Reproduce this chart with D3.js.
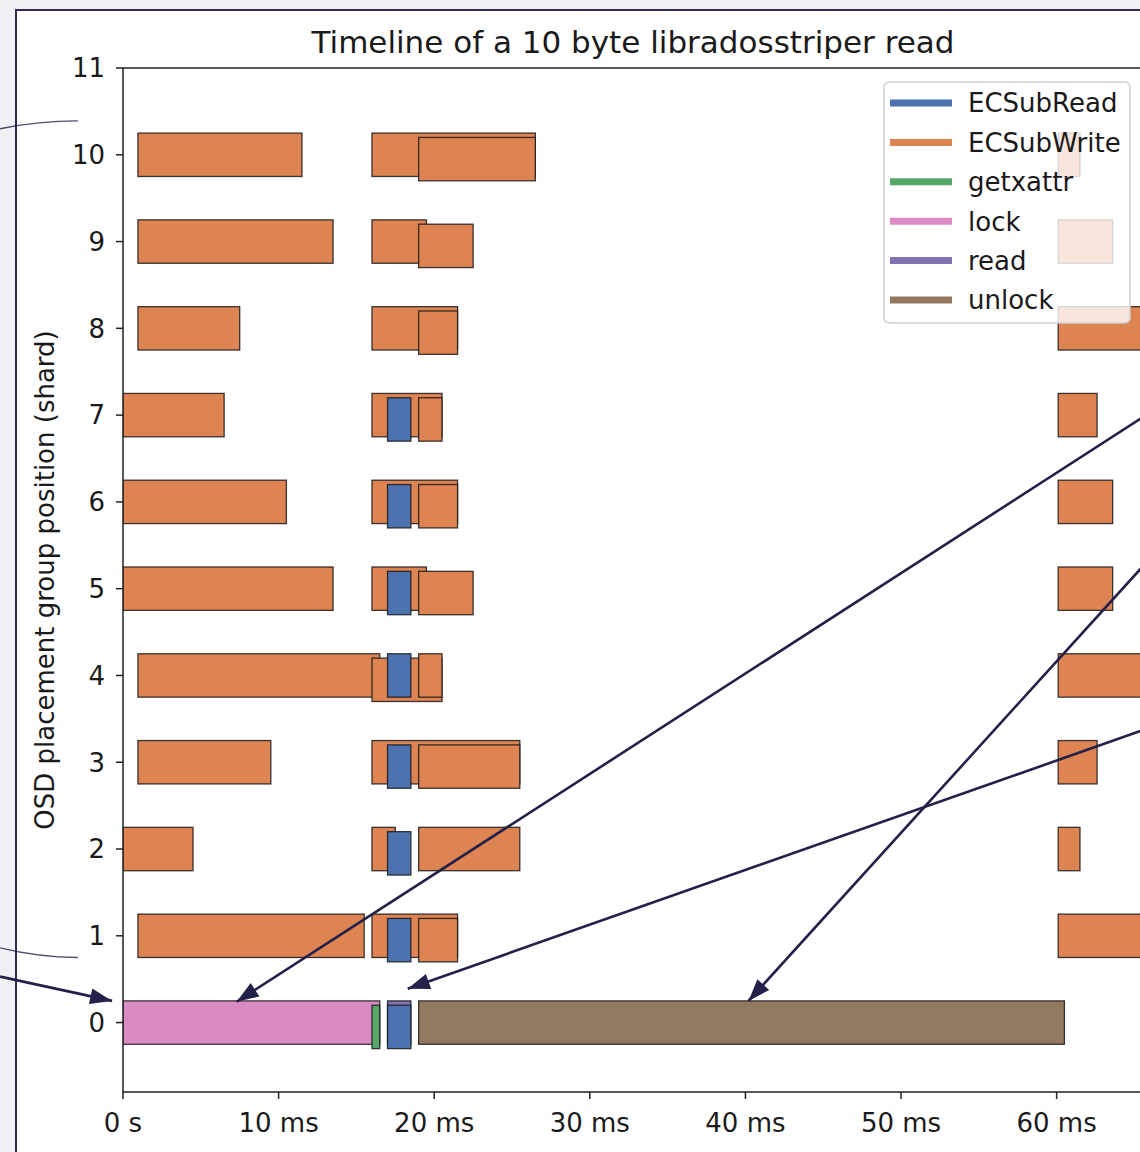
<!DOCTYPE html>
<html>
<head>
<meta charset="utf-8">
<script src="https://cdn.jsdelivr.net/npm/d3@7"></script>
<style>
  body { margin: 0; background: #eff1f4; }
  svg { display: block; font-family: 'DejaVu Sans', sans-serif; }
</style>
</head>
<body>
<svg></svg>
<script>
'use strict'

const width = 1140
const height = 1152

// operations, in legend order, and their colours
const ops = ['ECSubRead', 'ECSubWrite', 'getxattr', 'lock', 'read', 'unlock']
const opColors = ['#4c72b0', '#dd8452', '#55a868', '#da8bc3', '#8172b3', '#937860']

const xTicks = [0, 10, 20, 30, 40, 50, 60]
const xTickLabels = ['0 s', '10 ms', '20 ms', '30 ms', '40 ms', '50 ms', '60 ms']
const yTicks = [0, 1, 2, 3, 4, 5, 6, 7, 8, 9, 10, 11]

// [shard, op, start ms, end ms]
const spans = [
    [10, 'ECSubWrite', 0.96, 11.5], [10, 'ECSubWrite', 16, 26.5], [10, 'ECSubWrite', 19, 26.5], [10, 'ECSubWrite', 60.1, 61.5],
    [9, 'ECSubWrite', 0.96, 13.5], [9, 'ECSubWrite', 16, 19.5], [9, 'ECSubWrite', 19, 22.5], [9, 'ECSubWrite', 60.1, 63.6],
    [8, 'ECSubWrite', 0.96, 7.5], [8, 'ECSubWrite', 16, 21.5], [8, 'ECSubWrite', 19, 21.5], [8, 'ECSubWrite', 60.1, 66.5],
    [7, 'ECSubWrite', 0, 6.5], [7, 'ECSubWrite', 16, 20.5], [7, 'ECSubRead', 17, 18.5], [7, 'ECSubWrite', 19, 20.5], [7, 'ECSubWrite', 60.1, 62.6],
    [6, 'ECSubWrite', 0, 10.5], [6, 'ECSubWrite', 16, 21.5], [6, 'ECSubRead', 17, 18.5], [6, 'ECSubWrite', 19, 21.5], [6, 'ECSubWrite', 60.1, 63.6],
    [5, 'ECSubWrite', 0, 13.5], [5, 'ECSubWrite', 16, 19.5], [5, 'ECSubRead', 17, 18.5], [5, 'ECSubWrite', 19, 22.5], [5, 'ECSubWrite', 60.1, 63.6],
    [4, 'ECSubWrite', 0.96, 16.5], [4, 'ECSubWrite', 16, 20.5], [4, 'ECSubRead', 17, 18.5], [4, 'ECSubWrite', 19, 20.5], [4, 'ECSubWrite', 60.1, 66.5],
    [3, 'ECSubWrite', 0.96, 9.5], [3, 'ECSubWrite', 16, 25.5], [3, 'ECSubRead', 17, 18.5], [3, 'ECSubWrite', 19, 25.5], [3, 'ECSubWrite', 60.1, 62.6],
    [2, 'ECSubWrite', 0, 4.5], [2, 'ECSubWrite', 16, 17.5], [2, 'ECSubRead', 17, 18.5], [2, 'ECSubWrite', 19, 25.5], [2, 'ECSubWrite', 60.1, 61.5],
    [1, 'ECSubWrite', 0.96, 15.5], [1, 'ECSubWrite', 16, 21.5], [1, 'ECSubRead', 17, 18.5], [1, 'ECSubWrite', 19, 21.5], [1, 'ECSubWrite', 60.1, 66.5],
    [0, 'lock', 0, 16.5], [0, 'getxattr', 16, 16.5], [0, 'read', 17, 18.5], [0, 'ECSubRead', 17, 18.5], [0, 'unlock', 19, 60.5]
]

// overlay annotations, in data units: [x1, y1, x2, y2] tail -> tip
const arrows = [
    [65.4, 6.96, 7.3, 0.24],
    [65.4, 5.23, 40.2, 0.25],
    [65.4, 3.36, 18.3, 0.39],
    [-7.9, 0.53, -0.7, 0.25]
]
const swooshes = [
    [-7.9, 10.30, -2.9, 10.39],
    [-7.9, 0.86, -2.9, 0.75]
]

const margin = { left: 123, right: 1143, top: 68, bottom: 1092 }

const x = d3.scaleLinear().domain([0, 65.55]).range([margin.left, margin.right])
const y = d3.scaleLinear().domain([-0.8, 11]).range([margin.bottom, margin.top])
const color = d3.scaleOrdinal().domain(ops).range(opColors)

const svg = d3.select('svg').attr('width', width).attr('height', height)

// page panel
svg.append('rect').attr('width', width).attr('height', height).attr('fill', '#eff1f4')
svg.append('rect')
    .attr('x', 16).attr('y', 10)
    .attr('width', width + 20).attr('height', height + 20)
    .attr('fill', '#fff')
    .attr('stroke', '#2e2c55').attr('stroke-width', 2)

svg.append('defs').append('clipPath').attr('id', 'plot')
    .append('rect')
    .attr('x', margin.left).attr('y', margin.top)
    .attr('width', margin.right - margin.left).attr('height', margin.bottom - margin.top)

// stack overlapping spans into lanes per shard
const lanes = {}
const bars = spans.map(([shard, op, start, end]) => {
    const ends = lanes[shard] || (lanes[shard] = [])
    let lvl = ends.findIndex(e => e <= start)
    if (lvl < 0) lvl = ends.length
    ends[lvl] = end
    return { shard, op, start, end, lvl }
})

const barH = 0.5
const laneStep = 0.05

svg.append('g')
    .attr('clip-path', 'url(#plot)')
    .selectAll('rect')
    .data(bars)
    .enter()
    .append('rect')
    .attr('x', d => x(d.start))
    .attr('width', d => x(d.end) - x(d.start))
    .attr('y', d => y(d.shard + barH / 2 - laneStep * d.lvl))
    .attr('height', d => y(0) - y(barH))
    .attr('fill', d => color(d.op))
    .attr('stroke', '#1a1a1a').attr('stroke-opacity', 0.85).attr('stroke-width', 1.3)

// axes
const axisColor = '#222'
const spines = svg.append('g').attr('stroke', axisColor).attr('stroke-width', 1.5).attr('fill', 'none')
spines.append('path').attr('d', `M${margin.right},${margin.top}H${margin.left}V${margin.bottom}H${margin.right}`)

const xAxis = svg.append('g')
xAxis.selectAll('line').data(xTicks).enter().append('line')
    .attr('x1', d => x(d)).attr('x2', d => x(d))
    .attr('y1', margin.bottom).attr('y2', margin.bottom + 7)
    .attr('stroke', axisColor).attr('stroke-width', 1.5)
xAxis.selectAll('text').data(xTicks).enter().append('text')
    .attr('x', d => x(d)).attr('y', margin.bottom + 40)
    .attr('text-anchor', 'middle')
    .attr('font-size', 26).attr('fill', '#1a1a1a')
    .text((d, i) => xTickLabels[i])

const yAxis = svg.append('g')
yAxis.selectAll('line').data(yTicks).enter().append('line')
    .attr('x1', margin.left - 7).attr('x2', margin.left)
    .attr('y1', d => y(d)).attr('y2', d => y(d))
    .attr('stroke', axisColor).attr('stroke-width', 1.5)
yAxis.selectAll('text').data(yTicks).enter().append('text')
    .attr('x', margin.left - 18).attr('y', d => y(d))
    .attr('dy', '0.36em')
    .attr('text-anchor', 'end')
    .attr('font-size', 26).attr('fill', '#1a1a1a')
    .text(d => d)

svg.append('text')
    .attr('transform', `translate(54,${(margin.top + margin.bottom) / 2}) rotate(-90)`)
    .attr('text-anchor', 'middle')
    .attr('font-size', 26).attr('fill', '#1a1a1a')
    .text('OSD placement group position (shard)')

svg.append('text')
    .attr('x', (margin.left + margin.right) / 2).attr('y', 53)
    .attr('text-anchor', 'middle')
    .attr('font-size', 31).attr('fill', '#1a1a1a')
    .text('Timeline of a 10 byte libradosstriper read')

// legend
const legend = svg.append('g').attr('transform', `translate(${margin.right - 259},82)`)
legend.append('rect')
    .attr('width', 246).attr('height', 241).attr('rx', 5)
    .attr('fill', '#fff').attr('fill-opacity', 0.8)
    .attr('stroke', '#d0d0d0').attr('stroke-width', 1.5)
const item = legend.selectAll('g').data(ops).enter().append('g')
    .attr('transform', (d, i) => `translate(0,${21 + i * 39.4})`)
item.append('line')
    .attr('x1', 6).attr('x2', 68)
    .attr('stroke', d => color(d)).attr('stroke-width', 7)
item.append('text')
    .attr('x', 84).attr('dy', '0.36em')
    .attr('font-size', 26).attr('fill', '#1a1a1a')
    .text(d => d)

// annotation overlay
const ink = '#23204a'
const over = svg.append('g')
over.selectAll('path.swoosh').data(swooshes).enter().append('path')
    .attr('class', 'swoosh')
    .attr('d', d => {
        const x1 = x(d[0]), y1 = y(d[1]), x2 = x(d[2]), y2 = y(d[3])
        return `M${x1},${y1}Q${(x1 + x2) / 2},${y2} ${x2},${y2}`
    })
    .attr('fill', 'none').attr('stroke', ink).attr('stroke-opacity', 0.8).attr('stroke-width', 1.3)

const heads = over.selectAll('g.arrow').data(arrows).enter().append('g').attr('class', 'arrow')
heads.append('line')
    .attr('x1', d => x(d[0])).attr('y1', d => y(d[1]))
    .attr('x2', d => x(d[2])).attr('y2', d => y(d[3]))
    .attr('stroke', ink).attr('stroke-width', 2.6)
heads.append('path')
    .attr('d', 'M0,0L-22,-8L-22,8Z')
    .attr('fill', ink)
    .attr('transform', d => {
        const x1 = x(d[0]), y1 = y(d[1]), x2 = x(d[2]), y2 = y(d[3])
        const a = Math.atan2(y2 - y1, x2 - x1) * 180 / Math.PI
        return `translate(${x2},${y2}) rotate(${a})`
    })
</script>
</body>
</html>
